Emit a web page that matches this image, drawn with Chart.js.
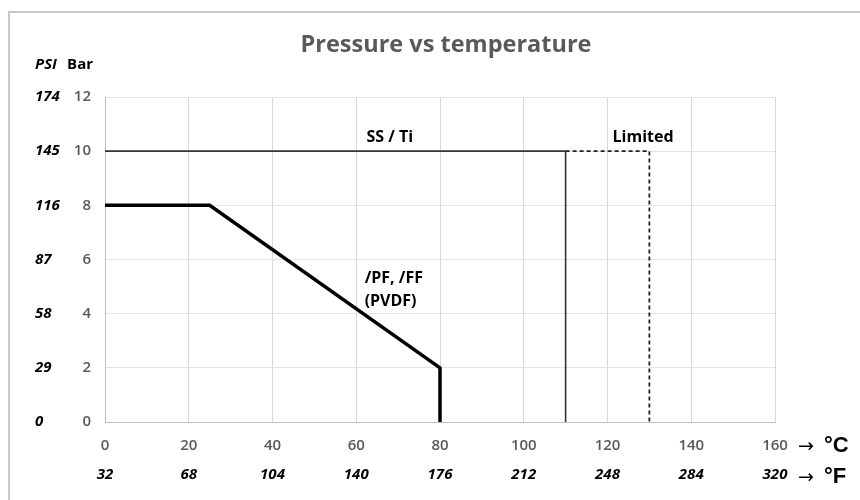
<!DOCTYPE html>
<html>
<head>
<meta charset="utf-8">
<script src="https://cdn.jsdelivr.net/npm/chart.js@4"></script>
<style>
  html, body { margin: 0; padding: 0; background: #ffffff; }
  #wrap { width: 860px; height: 500px; }
</style>
</head>
<body>
<div id="wrap"><canvas id="c" width="860" height="500"></canvas></div>
<script>
// ---- data ----
const celsiusTicks = [0, 20, 40, 60, 80, 100, 120, 140, 160];
const fahrenheitLabels = ['32', '68', '104', '140', '176', '212', '248', '284', '320'];
const barTicks = [0, 2, 4, 6, 8, 10, 12];
const psiLabels = ['0', '29', '58', '87', '116', '145', '174'];

const ssTiTemp = [0, 110, 110];
const ssTiBar = [10, 10, 0];
const limitedTemp = [110, 130, 130];
const limitedBar = [10, 10, 0];
const pvdfTemp = [0, 25, 80, 80];
const pvdfBar = [8, 8, 2, 0];

const chartTitle = 'Pressure vs temperature';
const annotationTexts = ['SS / Ti', 'Limited', '/PF, /FF', '(PVDF)'];

function pts(xs, ys) { return xs.map((x, i) => ({ x: x, y: ys[i] })); }

const FONT = "'Open Sans', 'DejaVu Sans', sans-serif";

const decor = {
  id: 'decor',
  afterDraw(chart) {
    const ctx = chart.ctx;
    const xs = chart.scales.x, ys = chart.scales.y, yp = chart.scales.yPsi;
    const area = chart.chartArea;
    ctx.save();
    // outer frame
    ctx.strokeStyle = '#c9c9c9';
    ctx.lineWidth = 2;
    ctx.strokeRect(9, 12, 900, 600);
    // title
    ctx.fillStyle = '#595959';
    ctx.font = "bold 23.5px " + FONT;
    ctx.textAlign = 'center';
    ctx.textBaseline = 'middle';
    ctx.fillText(chartTitle, (area.left + area.right) / 2 + 6, 45);
    // axis headers
    ctx.fillStyle = '#000000';
    ctx.font = "italic bold 15px " + FONT;
    ctx.textAlign = 'left';
    ctx.fillText('PSI', yp.left, 65);
    ctx.font = "bold 15px " + FONT;
    ctx.textAlign = 'right';
    ctx.fillText('Bar', area.left - 12, 65);
    // unit arrows
    const xEnd = xs.getPixelForValue(160);
    const cY = chart.scales.x.top + 24;
    const fY = chart.scales.xF.top + 17;
    ctx.textAlign = 'left';
    ctx.font = "19px 'DejaVu Sans', sans-serif";
    ctx.fillText('\u2192', xEnd + 23, cY + 1);
    ctx.fillText('\u2192', xEnd + 23, fY + 1);
    ctx.font = "bold 22px 'Liberation Sans', sans-serif";
    ctx.fillText('\u00B0C', xEnd + 49, cY);
    ctx.fillText('\u00B0F', xEnd + 49, fY);
    // annotations
    ctx.font = "bold 16px " + FONT;
    ctx.textAlign = 'center';
    ctx.fillText(annotationTexts[0], xs.getPixelForValue(68), ys.getPixelForValue(10.5));
    ctx.fillText(annotationTexts[1], xs.getPixelForValue(128.5), ys.getPixelForValue(10.5));
    ctx.textAlign = 'left';
    ctx.fillText(annotationTexts[2], xs.getPixelForValue(62), ys.getPixelForValue(5.3));
    ctx.fillText(annotationTexts[3], xs.getPixelForValue(62), ys.getPixelForValue(4.45));
    ctx.restore();
  }
};

new Chart(document.getElementById('c'), {
  type: 'line',
  data: {
    datasets: [
      { label: 'SS / Ti', data: pts(ssTiTemp, ssTiBar), borderColor: '#333333', borderWidth: 1.6, pointRadius: 0, tension: 0, fill: false, order: 2 },
      { label: 'Limited', data: pts(limitedTemp, limitedBar), borderColor: '#222222', borderWidth: 1.8, borderDash: [4, 3], pointRadius: 0, tension: 0, fill: false, order: 3 },
      { label: 'PVDF', data: pts(pvdfTemp, pvdfBar), borderColor: '#000000', borderWidth: 3.5, borderJoinStyle: 'miter', pointRadius: 0, tension: 0, fill: false, order: 1 }
    ]
  },
  options: {
    responsive: false,
    animation: false,
    layout: { padding: { left: 35, right: 85, top: 97, bottom: 8 } },
    plugins: { legend: { display: false }, tooltip: { enabled: false }, title: { display: false } },
    scales: {
      x: {
        type: 'linear', position: 'bottom', min: 0, max: 160, weight: 0,
        afterBuildTicks: (s) => { s.ticks = celsiusTicks.map(v => ({ value: v })); },
        afterFit: (s) => { s.height = 38; },
        grid: { color: '#d9d9d9', lineWidth: 1, drawTicks: false },
        border: { color: '#bfbfbf', width: 1 },
        ticks: { padding: 15, color: '#595959', font: { family: FONT, size: 15, weight: '600' }, maxRotation: 0, autoSkip: false }
      },
      xF: {
        type: 'linear', position: 'bottom', min: 0, max: 160, weight: 1,
        afterBuildTicks: (s) => { s.ticks = celsiusTicks.map(v => ({ value: v })); },
        afterFit: (s) => { s.height = 32; },
        grid: { display: false, drawTicks: false },
        border: { display: false },
        ticks: { padding: 6, color: '#000000', font: { family: FONT, size: 15, weight: 'bold', style: 'italic' }, maxRotation: 0, autoSkip: false,
          callback: (v, i) => fahrenheitLabels[i] }
      },
      y: {
        type: 'linear', position: 'left', min: 0, max: 12, weight: 0,
        afterBuildTicks: (s) => { s.ticks = barTicks.map(v => ({ value: v })); },
        afterFit: (s) => { s.width = 30; },
        grid: { color: '#e3e3e3', lineWidth: 1, drawTicks: false },
        border: { color: '#bfbfbf', width: 1 },
        ticks: { padding: 14, color: '#595959', font: { family: FONT, size: 15, weight: '600' } }
      },
      yPsi: {
        type: 'linear', position: 'left', min: 0, max: 12, weight: 1,
        afterBuildTicks: (s) => { s.ticks = barTicks.map(v => ({ value: v })); },
        afterFit: (s) => { s.width = 40; },
        grid: { display: false, drawTicks: false },
        border: { display: false },
        ticks: { crossAlign: 'far', padding: 0, color: '#000000', font: { family: FONT, size: 15, weight: 'bold', style: 'italic' },
          callback: (v, i) => psiLabels[i] }
      }
    }
  },
  plugins: [decor]
});
</script>
</body>
</html>
